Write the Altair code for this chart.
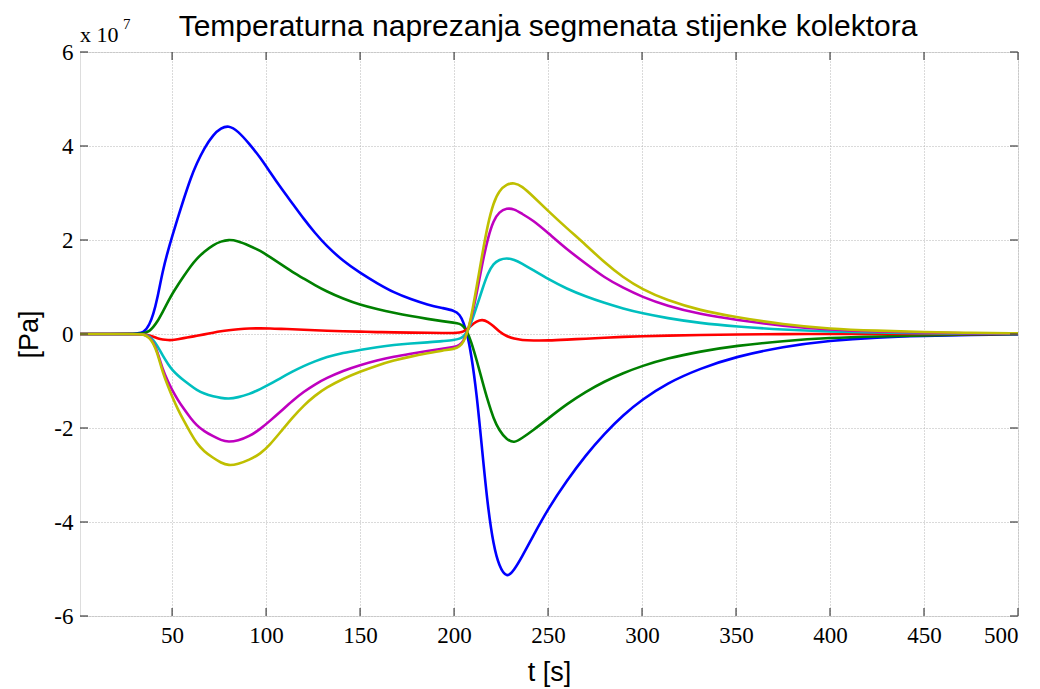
import altair as alt
import pandas as pd

# time samples [s]
t = [1, 30, 35, 38, 40, 42, 45, 48, 50, 53, 56, 60, 63, 67, 72, 76, 80, 85, 91, 97, 102, 108,
     114, 120, 126, 132, 141, 150, 159, 168, 177, 186, 194, 200, 203, 205, 207, 209, 212, 215,
     218, 221, 224, 228, 232, 236, 242, 250, 260, 270, 280, 290, 300, 313, 331, 350, 375, 400,
     425, 450, 475, 500]

# stresses in units of 1e7 Pa
blue = [0, 0, 0.02, 0.2, 0.42, 0.72, 1.35, 1.8, 2.07, 2.47, 2.85, 3.33, 3.62, 3.95, 4.25, 4.38,
        4.44, 4.32, 4.05, 3.75, 3.45, 3.1, 2.78, 2.45, 2.15, 1.88, 1.55, 1.3, 1.08, 0.88, 0.74,
        0.62, 0.55, 0.5, 0.42, 0.25, 0.0, -0.4, -1.25, -2.5, -3.7, -4.5, -4.95, -5.2, -5.02,
        -4.75, -4.3, -3.72, -3.12, -2.58, -2.12, -1.72, -1.4, -1.05, -0.73, -0.48, -0.27, -0.14,
        -0.07, -0.04, -0.02, -0.01]
green = [0, 0, 0.01, 0.06, 0.15, 0.25, 0.47, 0.7, 0.85, 1.04, 1.22, 1.45, 1.6, 1.75, 1.9, 1.97,
         2.01, 1.98, 1.88, 1.77, 1.64, 1.48, 1.32, 1.18, 1.04, 0.91, 0.75, 0.62, 0.53, 0.45, 0.38,
         0.32, 0.27, 0.24, 0.22, 0.17, 0.05, -0.15, -0.55, -1.0, -1.43, -1.8, -2.05, -2.25,
         -2.32, -2.22, -2.05, -1.8, -1.49, -1.23, -1.01, -0.83, -0.68, -0.52, -0.37, -0.25, -0.15,
         -0.08, -0.05, -0.03, -0.01, 0]
red = [0, 0, 0, -0.03, -0.06, -0.09, -0.12, -0.13, -0.13, -0.11, -0.09, -0.06, -0.04, -0.01,
       0.03, 0.06, 0.08, 0.1, 0.12, 0.12, 0.12, 0.11, 0.1, 0.09, 0.08, 0.07, 0.06, 0.05, 0.04,
       0.035, 0.03, 0.025, 0.02, 0.02, 0.03, 0.05, 0.1, 0.18, 0.27, 0.31, 0.26, 0.17, 0.05,
       -0.05, -0.1, -0.13, -0.14, -0.14, -0.12, -0.1, -0.08, -0.06, -0.05, -0.035, -0.02,
       -0.01, 0, 0, 0, 0, 0, 0]
cyan = [0, 0, 0, -0.05, -0.13, -0.24, -0.46, -0.65, -0.76, -0.88, -0.98, -1.1, -1.19, -1.27,
        -1.33, -1.36, -1.38, -1.35, -1.28, -1.17, -1.07, -0.93, -0.8, -0.68, -0.58, -0.49,
        -0.4, -0.34, -0.28, -0.23, -0.2, -0.18, -0.15, -0.13, -0.1, -0.06, 0.05, 0.22, 0.58,
        0.95, 1.3, 1.5, 1.58, 1.62, 1.58, 1.5, 1.36, 1.17, 0.96, 0.8, 0.66, 0.54, 0.44, 0.34,
        0.23, 0.16, 0.09, 0.05, 0.03, 0.015, 0.01, 0]
magenta = [0, 0, 0, -0.07, -0.18, -0.35, -0.76, -1.03, -1.19, -1.4, -1.58, -1.8, -1.94, -2.07,
           -2.18, -2.26, -2.3, -2.27, -2.18, -2.02, -1.85, -1.64, -1.42, -1.23, -1.07, -0.94,
           -0.78, -0.66, -0.56, -0.48, -0.42, -0.36, -0.31, -0.28, -0.24, -0.15, 0.03, 0.3,
           0.85, 1.5, 2.05, 2.42, 2.6, 2.68, 2.66, 2.56, 2.42, 2.15, 1.8, 1.5, 1.2, 0.98, 0.79,
           0.6, 0.42, 0.3, 0.17, 0.09, 0.05, 0.03, 0.015, 0.01]
yellow = [0, 0, 0, -0.08, -0.2, -0.38, -0.82, -1.13, -1.33, -1.6, -1.83, -2.12, -2.32, -2.5,
          -2.64, -2.74, -2.8, -2.77, -2.68, -2.55, -2.36, -2.07, -1.78, -1.52, -1.31, -1.14,
          -0.95, -0.8, -0.67, -0.56, -0.48, -0.41, -0.35, -0.32, -0.27, -0.17, 0.02, 0.33,
          1.0, 1.7, 2.35, 2.8, 3.05, 3.19, 3.22, 3.15, 2.93, 2.62, 2.25, 1.9, 1.52, 1.2, 0.95,
          0.72, 0.5, 0.36, 0.2, 0.11, 0.07, 0.04, 0.025, 0.015]

series_names = ["s1", "s2", "s3", "s4", "s5", "s6"]
series_colors = ["#0000ff", "#008000", "#ff0000", "#00bfbf", "#bf00bf", "#bfbf00"]
series_values = [blue, green, red, cyan, magenta, yellow]

x_ticks = [50, 100, 150, 200, 250, 300, 350, 400, 450, 500]
y_ticks = [-6, -4, -2, 0, 2, 4, 6]

title_text = "Temperaturna naprezanja segmenata stijenke kolektora"

rows = []
for order, (name, vals) in enumerate(zip(series_names, series_values)):
    for tt, v in zip(t, vals):
        rows.append({"t": tt, "v": v, "s": name, "o": order})
df = pd.DataFrame(rows)

W, H = 938, 564
TL = 8

xs = alt.Scale(domain=[1, 500], nice=False, zero=False)
ys = alt.Scale(domain=[-6, 6], nice=False)

xaxis = alt.Axis(values=x_ticks, title="t [s]", labelFont="Liberation Serif", labelFontSize=23,
                 labelColor="black", labelPadding=8, ticks=False, domain=False, grid=True,
                 gridDash=[1, 2], gridColor="#b4b4b4", gridWidth=1,
                 titleFont="Liberation Sans", titleFontSize=27, titleFontWeight="normal",
                 titleColor="black", titlePadding=12)
yaxis = alt.Axis(values=y_ticks, title="[Pa]", labelFont="Liberation Serif", labelFontSize=23,
                 labelColor="black", labelPadding=7, ticks=False, domain=False, grid=True,
                 gridDash=[1, 2], gridColor="#b4b4b4", gridWidth=1,
                 labelExpr="datum.value < 0 ? '-' + abs(datum.value) : '' + datum.value",
                 titleFont="Liberation Sans", titleFontSize=27, titleFontWeight="normal",
                 titleColor="black", titlePadding=10)

lines = alt.Chart(df).mark_line(strokeWidth=2.6, interpolate="basis").encode(
    x=alt.X("t:Q", scale=xs, axis=xaxis),
    y=alt.Y("v:Q", scale=ys, axis=yaxis),
    color=alt.Color("s:N", scale=alt.Scale(domain=series_names, range=series_colors), legend=None),
    order=alt.Order("o:Q"),
)

xt = pd.DataFrame({"x": x_ticks})
yt = pd.DataFrame({"y": y_ticks})
tick_color = "#404040"
xb = alt.Chart(xt).mark_rule(color=tick_color, strokeWidth=1.2).encode(
    x=alt.X("x:Q", scale=xs), y=alt.value(H), y2=alt.value(H - TL))
xtop = alt.Chart(xt).mark_rule(color=tick_color, strokeWidth=1.2).encode(
    x=alt.X("x:Q", scale=xs), y=alt.value(0), y2=alt.value(TL))
yl = alt.Chart(yt).mark_rule(color=tick_color, strokeWidth=1.2).encode(
    y=alt.Y("y:Q", scale=ys), x=alt.value(0), x2=alt.value(TL))
yr = alt.Chart(yt).mark_rule(color=tick_color, strokeWidth=1.2).encode(
    y=alt.Y("y:Q", scale=ys), x=alt.value(W), x2=alt.value(W - TL))

exp_base = alt.Chart(pd.DataFrame({"a": ["x 10"]})).mark_text(
    font="Liberation Serif", fontSize=22, align="left", baseline="alphabetic", color="black"
).encode(text="a:N", x=alt.value(0), y=alt.value(-10))
exp_pow = alt.Chart(pd.DataFrame({"a": ["7"]})).mark_text(
    font="Liberation Serif", fontSize=15, align="left", baseline="alphabetic", color="black"
).encode(text="a:N", x=alt.value(43), y=alt.value(-23))
title = alt.Chart(pd.DataFrame({"a": [title_text]})).mark_text(
    font="Liberation Sans", fontSize=30, align="center", baseline="alphabetic", color="black"
).encode(text="a:N", x=alt.value(W / 2 - 1), y=alt.value(-16))

chart = alt.layer(lines, xb, xtop, yl, yr, exp_base, exp_pow, title).properties(
    width=W, height=H,
    autosize=alt.AutoSizeParams(type="none"),
    padding={"left": 72, "top": 44, "right": 10, "bottom": 72},
).configure_view(stroke="#404040", strokeWidth=1.2).configure(background="white")

chart.save("out.html", embed_options={"renderer": "svg", "actions": False})
